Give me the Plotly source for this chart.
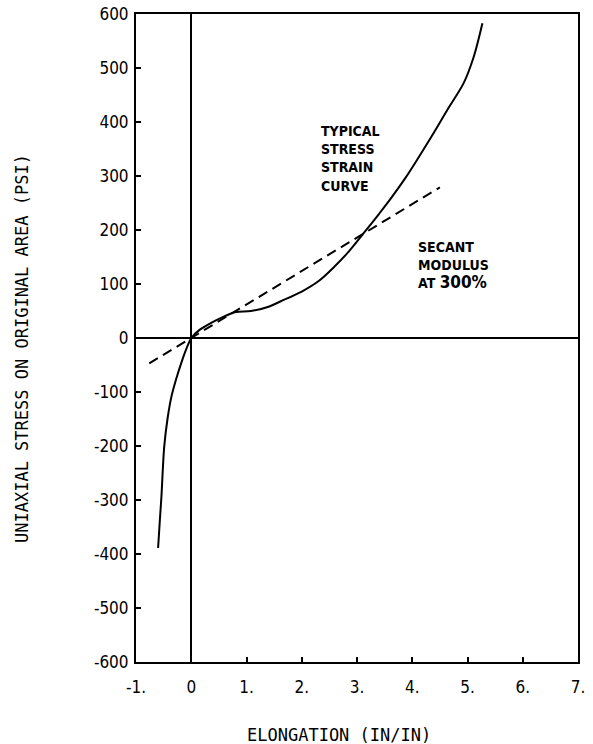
import plotly.graph_objects as go

# Stress-strain curve
strain = [-0.60, -0.57, -0.54, -0.49, -0.43, -0.36, -0.27, -0.18, -0.08, 0.0, 0.15, 0.36,
          0.6, 0.8, 1.08, 1.4, 1.62, 2.0, 2.3, 2.58, 2.85, 3.12, 3.4, 3.61, 3.88, 4.1,
          4.39, 4.65, 4.93, 5.11, 5.27]
stress = [-389, -340, -294, -202, -150, -109, -75, -46, -18, 0, 15, 28,
          40, 48, 50, 58, 68, 86, 105, 131, 160, 194, 230, 258, 297, 332,
          380, 425, 472, 520, 583]

# Secant modulus line at 300%
secant_x = [-0.76, 4.5]
secant_y = [-47, 279]

x_tickvals = [-1, 0, 1, 2, 3, 4, 5, 6, 7]
x_ticktext = ["-1.", "0", "1.", "2.", "3.", "4.", "5.", "6.", "7."]
y_tickvals = [600, 500, 400, 300, 200, 100, 0, -100, -200, -300, -400, -500, -600]
y_ticktext = ["600", "500", "400", "300", "200", "100", "0", "-100", "-200", "-300",
              "-400", "-500", "-600"]

label1_text = "TYPICAL<br>STRESS<br>STRAIN<br>CURVE"
label1_x = 2.32
label1_y = 333
label2_text = "SECANT<br>MODULUS<br>AT <span style='font-size:17px'>300%</span>"
label2_x = 4.07
label2_y = 135

tick_font = dict(family="DejaVu Sans Condensed, Liberation Sans Narrow, sans-serif",
                 size=17, color="black")
mono = dict(family="DejaVu Sans Mono, Liberation Mono, monospace", size=17, color="black")
label_font = dict(family="DejaVu Sans Condensed, DejaVu Sans, sans-serif",
                  size=14, color="black", weight="bold")

L, R, T, B = 136, 578, 14, 662

fig = go.Figure()
fig.add_trace(go.Scatter(x=strain, y=stress, mode="lines",
                         line=dict(color="black", width=2, shape="spline", smoothing=0.9),
                         showlegend=False, hoverinfo="skip"))
fig.add_trace(go.Scatter(x=secant_x, y=secant_y, mode="lines",
                         line=dict(color="black", width=2, dash="10px,6px"),
                         showlegend=False, hoverinfo="skip"))

annotations = [
    dict(x=label1_x, y=label1_y, xref="x", yref="y", text=label1_text, showarrow=False,
         xanchor="left", yanchor="middle", align="left", font=label_font),
    dict(x=label2_x, y=label2_y, xref="x", yref="y", text=label2_text, showarrow=False,
         xanchor="left", yanchor="middle", align="left", font=label_font),
    dict(x=(339 - L) / (R - L), y=-(735 - B) / (B - T),
         xref="paper", yref="paper", text="ELONGATION (IN/IN)", showarrow=False,
         xanchor="center", yanchor="middle", font=mono),
    dict(x=-(L - 22) / (R - L), y=(B - 349) / (B - T),
         xref="paper", yref="paper", text="UNIAXIAL STRESS ON ORIGINAL AREA (PSI)",
         showarrow=False, textangle=-90, xanchor="center", yanchor="middle", font=mono),
]

fig.update_layout(
    width=593, height=744,
    margin=dict(l=L, r=593 - R, t=T, b=744 - B, autoexpand=False),
    paper_bgcolor="white", plot_bgcolor="white",
    annotations=annotations,
    xaxis=dict(range=[-1, 7], tickvals=x_tickvals, ticktext=x_ticktext, tickfont=tick_font,
               ticks="inside", ticklen=5, tickwidth=2, tickcolor="black",
               showline=True, linecolor="black", linewidth=2, mirror=True,
               showgrid=False, zeroline=True, zerolinecolor="black", zerolinewidth=1.5,
               ticklabelstandoff=9, automargin=False),
    yaxis=dict(range=[-600, 600], tickvals=y_tickvals, ticktext=y_ticktext, tickfont=tick_font,
               ticks="inside", ticklen=5, tickwidth=2, tickcolor="black",
               showline=True, linecolor="black", linewidth=2, mirror=True,
               showgrid=False, zeroline=True, zerolinecolor="black", zerolinewidth=1.5,
               ticklabelstandoff=2, automargin=False),
)

fig.write_html("out.html", config={"displayModeBar": False},
               post_script="document.body.style.margin='0';document.body.style.overflow='hidden';")
